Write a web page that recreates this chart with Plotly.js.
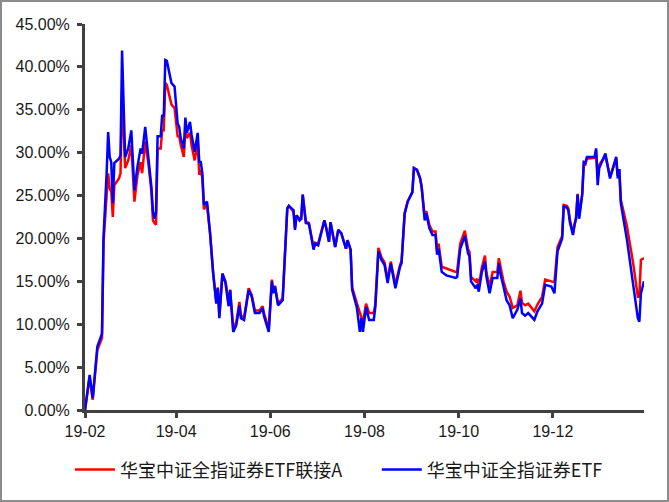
<!DOCTYPE html>
<html>
<head>
<meta charset="utf-8">
<script src="https://cdn.plot.ly/plotly-3.0.1.min.js"></script>
<style>
html,body{margin:0;padding:0;background:#fff;}
#chart{width:665px;height:498px;border:2px solid #8c8c8c;}
</style>
</head>
<body>
<div id="chart"></div>
<script>
const dates = [
"2019-02-01","2019-02-04","2019-02-06","2019-02-09","2019-02-12","2019-02-13","2019-02-15","2019-02-16","2019-02-17","2019-02-18",
"2019-02-19","2019-02-20","2019-02-23","2019-02-24","2019-02-25","2019-02-27","2019-03-01","2019-03-03","2019-03-05","2019-03-07",
"2019-03-09","2019-03-10","2019-03-12","2019-03-14","2019-03-16","2019-03-17","2019-03-18","2019-03-19","2019-03-20","2019-03-22",
"2019-03-23","2019-03-24","2019-03-25","2019-03-26","2019-03-29","2019-03-31","2019-04-02","2019-04-03","2019-04-04","2019-04-06",
"2019-04-07","2019-04-08","2019-04-10","2019-04-11","2019-04-13","2019-04-15","2019-04-16","2019-04-17","2019-04-18","2019-04-19",
"2019-04-21","2019-04-23","2019-04-25","2019-04-27","2019-04-28","2019-04-29","2019-05-01","2019-05-03","2019-05-05","2019-05-06",
"2019-05-08","2019-05-10","2019-05-12","2019-05-13","2019-05-15","2019-05-18","2019-05-20","2019-05-22","2019-05-25","2019-05-27",
"2019-05-28","2019-05-31","2019-06-02","2019-06-03","2019-06-04","2019-06-06","2019-06-08","2019-06-09","2019-06-12","2019-06-13",
"2019-06-16","2019-06-17","2019-06-18","2019-06-20","2019-06-21","2019-06-22","2019-06-24","2019-06-26","2019-06-29","2019-06-30",
"2019-07-02","2019-07-06","2019-07-07","2019-07-09","2019-07-10","2019-07-13","2019-07-15","2019-07-17","2019-07-20","2019-07-21",
"2019-07-23","2019-07-24","2019-07-27","2019-07-29","2019-07-30","2019-07-31","2019-08-02","2019-08-04","2019-08-07","2019-08-08",
"2019-08-10","2019-08-12","2019-08-14","2019-08-16","2019-08-18","2019-08-21","2019-08-24","2019-08-25","2019-08-27","2019-08-29",
"2019-09-01","2019-09-02","2019-09-04","2019-09-06","2019-09-07","2019-09-09","2019-09-10","2019-09-12","2019-09-14","2019-09-16",
"2019-09-17","2019-09-18","2019-09-20","2019-09-23","2019-09-29","2019-09-30","2019-10-02","2019-10-05","2019-10-07","2019-10-08",
"2019-10-09","2019-10-12","2019-10-13","2019-10-14","2019-10-16","2019-10-18","2019-10-19","2019-10-21","2019-10-23","2019-10-26",
"2019-10-27","2019-10-28","2019-10-30","2019-11-01","2019-11-03","2019-11-05","2019-11-08","2019-11-10","2019-11-11","2019-11-13",
"2019-11-15","2019-11-19","2019-11-21","2019-11-24","2019-11-26","2019-11-30","2019-12-02","2019-12-04","2019-12-07","2019-12-08",
"2019-12-10","2019-12-11","2019-12-12","2019-12-14","2019-12-15","2019-12-16","2019-12-17","2019-12-18","2019-12-20","2019-12-21",
"2019-12-22","2019-12-23","2019-12-28","2019-12-29","2019-12-30","2019-12-31","2020-01-04","2020-01-07","2020-01-11","2020-01-12",
"2020-01-13","2020-01-14","2020-01-18","2020-01-22","2020-01-25","2020-01-26","2020-01-27","2020-01-29"
];

const feederA = [
0,3.8,1.2,7.0,8.4,19.5,25.0,27.6,25.8,25.5,
22.5,26.2,27.0,27.6,37.0,28.2,29.1,30.9,24.3,27.4,
28.9,27.6,31.3,28.8,25.5,22.1,21.8,21.6,30.5,30.5,
32.6,32.6,38.1,37.9,35.6,35.2,31.9,31.9,30.9,29.5,
32.8,31.7,32.3,30.9,29.1,31.1,27.4,28.0,27.0,23.4,
24.0,20.6,16.0,12.7,14.3,11.0,15.9,15.0,12.4,14.0,
9.5,10.3,12.6,11.0,10.8,14.2,13.4,11.6,11.6,12.1,
11.2,9.5,15.2,13.8,14.5,12.4,12.8,13.0,23.5,23.8,
23.1,21.2,22.7,22.3,22.3,25.1,22.0,21.8,19.0,19.5,
19.4,22.1,21.4,19.6,21.9,19.0,21.0,20.6,18.8,19.8,
18.7,14.3,12.5,11.3,11.0,10.2,12.4,11.3,11.3,12.3,
18.9,17.8,17.2,15.2,17.3,14.6,16.9,17.4,22.9,24.3,
25.4,28.2,28.0,27.0,26.0,22.5,23.2,21.6,20.8,20.8,
18.6,19.4,16.7,16.5,16.1,16.2,19.4,20.9,18.8,18.4,
15.5,15.0,15.3,14.4,16.6,18.0,16.0,14.4,16.1,16.1,
17.7,16.8,15.0,13.8,13.2,11.9,12.2,13.9,12.5,12.2,
12.4,11.5,12.3,13.2,15.2,15.0,14.9,19.0,20.3,23.9,
23.8,23.5,22.2,20.6,21.8,22.5,25.2,22.6,25.2,28.7,
28.6,29.3,29.4,30.2,27.0,28.6,29.6,27.2,29.3,27.3,
28.1,24.5,21.4,17.1,13.2,13.2,17.5,17.7
];

const etf = [
0,4.1,1.4,7.4,8.9,20.2,27.6,32.4,29.5,28.9,
24.1,28.8,29.3,29.7,41.9,29.5,30.5,32.6,25.6,28.4,
30.5,29.9,33.0,29.1,26.0,23.1,22.3,23.1,31.9,31.9,
34.4,34.2,40.8,40.7,38.1,37.7,33.4,33.0,31.7,30.5,
34.1,32.3,33.6,32.1,30.1,32.3,28.9,28.9,27.6,23.9,
24.3,20.6,15.9,12.4,14.2,10.7,15.9,14.8,12.1,14.0,
9.1,9.9,12.2,10.7,10.5,14.0,13.2,11.3,11.3,11.9,
10.9,9.1,15.0,13.6,14.4,12.2,12.6,12.8,23.5,23.8,
23.3,21.0,22.7,22.1,22.3,25.1,21.8,21.7,18.7,19.4,
19.2,22.1,21.4,19.6,21.9,19.0,21.0,20.6,18.8,19.8,
18.7,14.0,12.0,9.1,10.7,9.1,12.0,10.5,10.5,12.0,
18.5,17.5,16.9,14.8,17.1,14.2,16.7,17.1,22.9,24.3,
25.4,28.2,28.0,27.0,26.0,22.1,22.9,21.2,20.4,20.4,
18.1,18.8,16.1,15.7,15.4,15.5,18.8,20.3,18.3,17.9,
15.0,14.2,14.6,13.8,16.1,17.3,15.5,13.6,15.4,15.4,
17.1,15.9,14.4,12.8,12.2,10.7,11.7,13.0,11.3,11.0,
11.3,10.5,11.5,12.4,14.6,14.4,13.6,18.5,20.0,23.7,
23.6,23.3,21.9,20.4,21.6,22.3,25.1,22.3,25.1,28.9,
28.8,29.5,29.5,30.5,26.2,28.2,29.9,27.0,29.5,27.0,
28.1,24.1,19.8,14.8,10.7,10.3,13.6,15.0
];

const seriesNames = ["华宝中证全指证券ETF联接A", "华宝中证全指证券ETF"];
const yTicks = [0,5,10,15,20,25,30,35,40,45];
const yTickLabels = ["0.00%","5.00%","10.00%","15.00%","20.00%","25.00%","30.00%","35.00%","40.00%","45.00%"];

const traces = [
  {x: dates, y: feederA, name: seriesNames[0], type: "scatter", mode: "lines",
   line: {color: "#ff0000", width: 2.5}, legend: "legend"},
  {x: dates, y: etf, name: seriesNames[1], type: "scatter", mode: "lines",
   line: {color: "#0000ff", width: 2.5}, legend: "legend2"}
];

const legendFont = {family: "Noto Sans CJK SC, sans-serif", size: 18, color: "#1a1a1a"};

const layout = {
  width: 665, height: 498,
  margin: {l: 83, r: 23, t: 22, b: 90, autoexpand: false},
  paper_bgcolor: "#ffffff", plot_bgcolor: "#ffffff",
  font: {family: "Liberation Sans, Arial, sans-serif", size: 16, color: "#1a1a1a"},
  showlegend: true,
  legend: {
    orientation: "h", x: -0.027, xanchor: "left", y: -0.155, yanchor: "middle",
    font: legendFont, itemwidth: 40, bgcolor: "rgba(0,0,0,0)"
  },
  legend2: {
    orientation: "h", x: 0.522, xanchor: "left", y: -0.155, yanchor: "middle",
    font: legendFont, itemwidth: 40, bgcolor: "rgba(0,0,0,0)"
  },
  xaxis: {
    type: "date", range: ["2019-02-01", "2020-01-29"],
    tick0: "2019-02-01", dtick: "M2", tickformat: "%y-%m",
    showgrid: false, zeroline: false,
    showline: true, linecolor: "#404040", linewidth: 3,
    ticks: "outside", ticklen: 5, tickwidth: 3, tickcolor: "#404040",
    tickfont: {size: 16}
  },
  yaxis: {
    range: [0, 45], tickmode: "array", tickvals: yTicks, ticktext: yTickLabels,
    showgrid: false, zeroline: false,
    showline: true, linecolor: "#404040", linewidth: 3,
    ticks: "outside", ticklen: 5, tickwidth: 3, tickcolor: "#404040",
    tickfont: {size: 16}, ticklabelstandoff: 4
  }
};

Plotly.newPlot("chart", traces, layout, {displayModeBar: false, staticPlot: true});
</script>
</body>
</html>
